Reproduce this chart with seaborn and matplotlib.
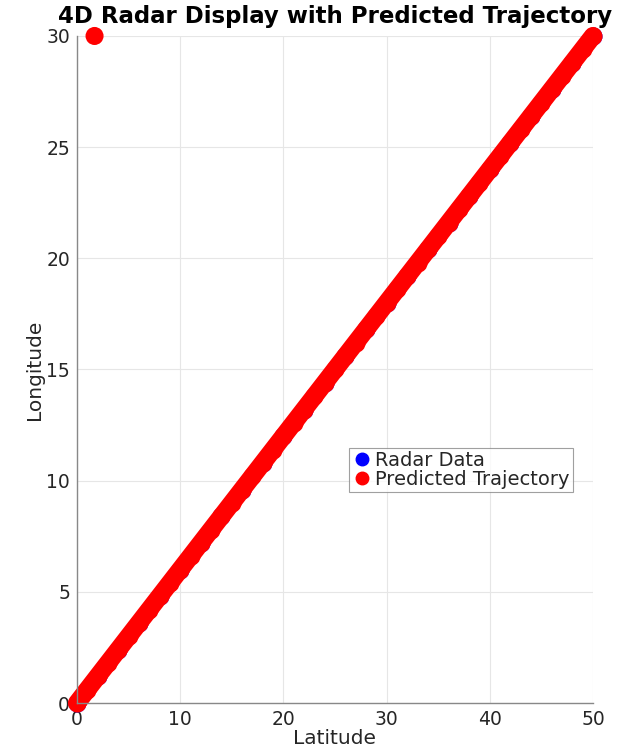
import numpy as np
import pandas as pd
import matplotlib
matplotlib.use("Agg")
import matplotlib.pyplot as plt
import seaborn as sns
from matplotlib.lines import Line2D

# radar track samples (latitude, longitude)
radar_lat = [0, 2, 4, 6, 8, 10, 12, 14, 16, 18, 20, 22, 24, 26, 28, 30,
             32, 34, 36, 38, 40, 42, 44, 46, 48, 50]
radar_lon = [0, 1.2, 2.4, 3.6, 4.8, 6, 7.2, 8.4, 9.6, 10.8, 12, 13.2, 14.4,
             15.6, 16.8, 18, 19.2, 20.4, 21.6, 22.8, 24, 25.2, 26.4, 27.6,
             28.8, 30]

# predicted trajectory
pred_lat = [0, 1, 2, 3, 4, 5, 6, 7, 8, 9, 10, 11, 12, 13, 14, 15, 16, 17,
            18, 19, 20, 21, 22, 23, 24, 25, 26, 27, 28, 29, 30, 31, 32, 33,
            34, 35, 36, 37, 38, 39, 40, 41, 42, 43, 44, 45, 46, 47, 48, 49, 50]
pred_lon = [0, 0.6, 1.2, 1.8, 2.4, 3, 3.6, 4.2, 4.8, 5.4, 6, 6.6, 7.2, 7.8,
            8.4, 9, 9.6, 10.2, 10.8, 11.4, 12, 12.6, 13.2, 13.8, 14.4, 15,
            15.6, 16.2, 16.8, 17.4, 18, 18.6, 19.2, 19.8, 20.4, 21, 21.6,
            22.2, 22.8, 23.4, 24, 24.6, 25.2, 25.8, 26.4, 27, 27.6, 28.2,
            28.8, 29.4, 30]
# stray predicted point
stray_lat = [1.7]
stray_lon = [30]

radar = pd.DataFrame({"lat": radar_lat, "lon": radar_lon})
pred = pd.DataFrame({"lat": pred_lat, "lon": pred_lon})
stray = pd.DataFrame({"lat": stray_lat, "lon": stray_lon})

sns.set_style("white")
plt.rcParams["font.family"] = ["DejaVu Sans"]

fig = plt.figure(figsize=(6.24, 7.51), dpi=100)
ax = fig.add_axes([0.1234, 0.0639, 0.8269, 0.8882])

ms = 13
sns.lineplot(data=radar, x="lat", y="lon", ax=ax, color="blue", marker="o",
             markersize=ms, markeredgewidth=0, linewidth=0, legend=False,
             sort=False, clip_on=False)
sns.lineplot(data=pred, x="lat", y="lon", ax=ax, color="red", marker="o",
             markersize=ms, markeredgewidth=0, linewidth=ms,
             solid_capstyle="round", legend=False, sort=False, clip_on=False)
sns.scatterplot(data=stray, x="lat", y="lon", ax=ax, color="red", s=ms**2,
                edgecolor="none", legend=False, clip_on=False, zorder=5)

ax.set_xlim(0, 50)
ax.set_ylim(0, 30)
ax.set_xticks([0, 10, 20, 30, 40, 50])
ax.set_yticks([0, 5, 10, 15, 20, 25, 30])
ax.grid(True, color="#e6e6e6", linewidth=0.8)
ax.set_axisbelow(True)
for s in ["top", "right"]:
    ax.spines[s].set_visible(False)
for s in ["left", "bottom"]:
    ax.spines[s].set_color("#888888")
    ax.spines[s].set_linewidth(1)
ax.tick_params(direction="in", length=4, color="#888888", labelsize=13.5,
               labelcolor="#262626", pad=5)

ax.set_xlabel("Latitude", fontsize=14.5, color="#262626", labelpad=0)
ax.set_ylabel("Longitude", fontsize=14.5, color="#262626", labelpad=2)
ax.set_title("4D Radar Display with Predicted Trajectory", fontsize=16.5,
             fontweight="bold", color="black", pad=9)

handles = [
    Line2D([], [], color="blue", marker="o", linestyle="none", markersize=9),
    Line2D([], [], color="red", marker="o", linestyle="none", markersize=9),
]
leg = ax.legend(handles, ["Radar Data", "Predicted Trajectory"], loc="center",
                bbox_to_anchor=(0.744, 0.349), fontsize=14, frameon=True,
                fancybox=False, edgecolor="#888888", handletextpad=0.2,
                handlelength=1.0, borderpad=0.15, labelspacing=0.0,
                borderaxespad=0)
leg.get_frame().set_linewidth(0.8)

fig.savefig("out.png", dpi=100)
